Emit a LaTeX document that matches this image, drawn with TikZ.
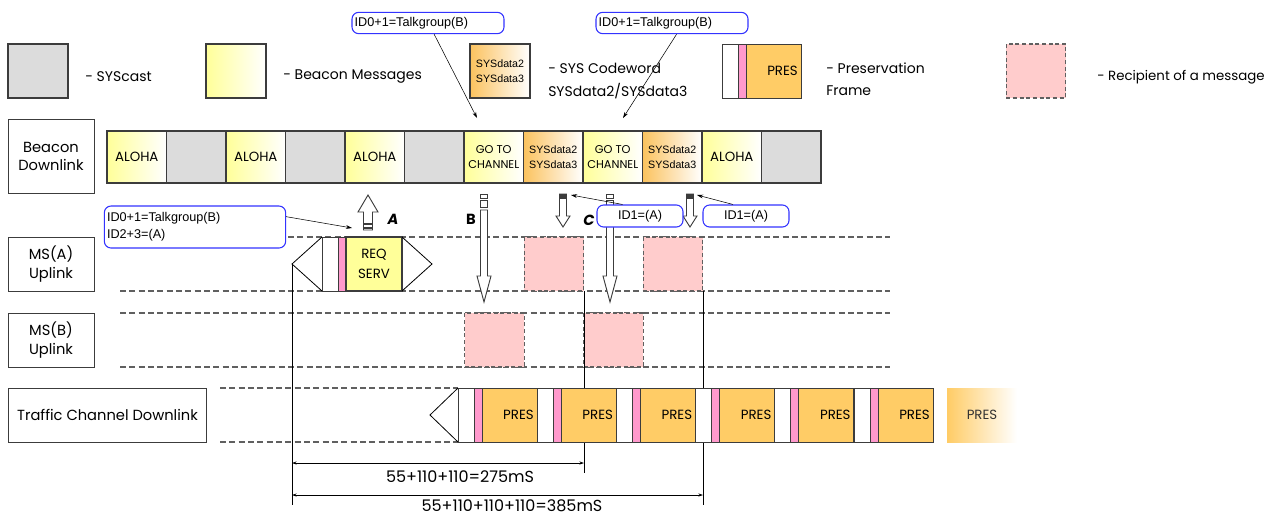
\documentclass[tikz,border=0pt]{standalone}
\usepackage{fontspec}
\setmainfont{Poppins}
\newfontfamily\arialfont{Liberation Sans}
\usepackage{xcolor}
\definecolor{CellLine}{HTML}{3C3C3C}
\definecolor{CastGray}{HTML}{DCDCDC}
\definecolor{BeaconYellow}{HTML}{FFFF99}
\definecolor{WordOrange}{HTML}{FBC25E}
\definecolor{PresOrange}{HTML}{FFCC66}
\definecolor{GuardPink}{HTML}{FF99CC}
\definecolor{RecipPink}{HTML}{FFCCCC}
\definecolor{CalloutBlue}{HTML}{3333FF}
\definecolor{DashGray}{HTML}{606060}
\usepackage{tikz}
\usetikzlibrary{arrows.meta,calc,positioning}

\newcommand{\presframe}[3]{%
  \draw[frameline,fill=white] (#1,#2) rectangle ({#1+16},{#2+54});
  \draw[frameline,fill=GuardPink] ({#1+16},#2) rectangle ({#1+24},{#2+54});
  \draw[frameline,fill=PresOrange] ({#1+24},#2) rectangle ({#1+79},{#2+54});
  \node[anchor=east,font=\fontsize{10}{12}\selectfont,inner sep=0pt] (#3) at ({#1+76},{#2+27}) {PRES};}
\newcommand{\downblk}[5]{%
  \draw[block] ({#1-3.5},#2) -- ({#1+3.5},#2) -- ({#1+3.5},#3) -- ({#1+#5},#3)
    -- (#1,#4) -- ({#1-#5},#3) -- ({#1-3.5},#3) -- cycle;}

\begin{document}
\begin{tikzpicture}[x=0.75pt,y=-0.75pt,
  cell/.style={draw=CellLine,line width=0.9pt,minimum width=44.6pt,minimum height=39pt,inner sep=0pt,align=center},
  cast/.style={cell,fill=CastGray},
  beacon/.style={cell,left color=BeaconYellow,right color=white,font=\fontsize{10}{12}\selectfont},
  gotocell/.style={beacon,font=\fontsize{8.5}{11}\selectfont},
  sysword/.style={cell,left color=WordOrange,right color=white,font=\arialfont\fontsize{8}{11}\selectfont},
  legend/.style={anchor=west,inner sep=0pt,font=\fontsize{10.5}{12}\selectfont},
  rowlabel/.style={draw=CellLine,line width=0.7pt,minimum width=64.5pt,minimum height=40.5pt,align=center,font=\fontsize{11}{14}\selectfont},
  lane/.style={draw=DashGray,line width=0.9pt,dash pattern=on 4.5pt off 2.5pt},
  recip/.style={draw=DashGray,fill=RecipPink,line width=0.8pt,dash pattern=on 3pt off 2pt,minimum width=44.6pt,minimum height=40.5pt,inner sep=0pt},
  callout/.style={draw=CalloutBlue,fill=white,rounded corners=5pt,line width=0.8pt,inner sep=2pt,align=left,font=\arialfont\fontsize{9.5}{12.5}\selectfont},
  pointer/.style={-{Stealth[length=1.6mm,width=1mm]},line width=0.4pt},
  measure/.style={{Stealth[length=1.2mm,width=0.8mm]}-{Stealth[length=1.2mm,width=0.8mm]},line width=0.5pt},
  frameline/.style={draw=CellLine,line width=0.7pt},
  block/.style={draw=CellLine,fill=white,line width=0.7pt},
  tag/.style={font=\fontsize{11}{13}\selectfont\bfseries\itshape,inner sep=0pt}
]
\useasboundingbox (0,0) rectangle (1281,515);

\node[cast,minimum width=45pt,minimum height=40.5pt] (lgcast) at (38,71) {};
\node[legend] (lgcastT) at (85,77) {- SYScast};
\node[beacon,minimum width=45pt,minimum height=40.5pt] (lgbeacon) at (236,71) {};
\node[legend] (lgbeaconT) at (283,77) {- Beacon Messages};
\node[sysword,minimum width=45pt,minimum height=40.5pt] (lgword) at (500,71) {SYSdata2\\SYSdata3};
\node[legend] (lgwordT) at (548,68) {- SYS Codeword};
\node[legend] (lgwordU) at (548,91) {SYSdata2/SYSdata3};
\presframe{722}{44}{lgpres}
\node[legend] (lgpresT) at (826,68) {- Preservation};
\node[legend] (lgpresU) at (826,91) {Frame};
\node[recip] (lgrecip) at (1036,71) {};
\node[legend,font=\fontsize{10}{12}\selectfont] (lgrecipT) at (1097,77) {- Recipient of a message};

\node[rowlabel,minimum height=56pt] (lbBeacon) at (51,156.5) {Beacon\\Downlink};
\node[rowlabel] (lbMSA) at (51,264) {MS(A)\\Uplink};
\node[rowlabel] (lbMSB) at (51,340) {MS(B)\\Uplink};
\node[rowlabel,minimum width=149pt] (lbTraffic) at (107.5,415) {Traffic Channel Downlink};

\foreach \kind/\txt [count=\i] in {beacon/ALOHA,cast/,beacon/ALOHA,cast/,beacon/ALOHA,cast/,
  gotocell/{GO TO\\CHANNEL},sysword/{SYSdata2\\SYSdata3},gotocell/{GO TO\\CHANNEL},
  sysword/{SYSdata2\\SYSdata3},beacon/ALOHA,cast/}
  \node[\kind] (bd\i) at ({107+59.5*(\i-0.5)},157) {\txt};

\foreach \y in {237,291,313,367}
  \draw[lane] (120,\y) -- (890,\y);
\draw[lane] (220,388) -- (458,388);
\draw[lane] (220,442) -- (458,442);

\node[recip] (rcA1) at (554,264) {};
\node[recip] (rcA2) at (673,264) {};
\node[recip] (rcB1) at (494.5,340) {};
\node[recip] (rcB2) at (613.5,340) {};

\coordinate (tA) at (292,264);
\coordinate (tAend) at (292,505);
\coordinate (tC) at (584,291);
\coordinate (tCend) at (584,473);
\coordinate (tD) at (703,291);
\coordinate (tDend) at (703,505);
\draw[line width=0.6pt] (tA) -- (tAend);
\draw[line width=0.6pt] (tC) -- (tCend);
\draw[line width=0.6pt] (tD) -- (tDend);

\draw[line width=0.6pt] (322,237) -- (292,264) -- (322,291);
\draw[frameline,fill=white] (322,237) rectangle (338,291);
\draw[frameline,fill=GuardPink] (338,237) rectangle (346,291);
\node[cell,fill=BeaconYellow,minimum width=42pt,minimum height=40.5pt,font=\fontsize{10}{12}\selectfont] (req) at (374,264) {REQ\\[3pt]SERV};
\draw[line width=0.6pt] (402,237) -- (432,264) -- (402,291);

\draw[line width=0.6pt] (458,388) -- (430,415) -- (458,442);
\foreach \k in {0,...,5}
  \presframe{458+79.2*\k}{388}{tf\k}
\node[minimum width=52pt,minimum height=40.5pt,left color=PresOrange,right color=white,text=black!80,font=\fontsize{10}{12}\selectfont] (tffade) at (982,415) {PRES};

\draw[block] (368,195) -- (378,212) -- (372.5,212) -- (372.5,230) -- (363.5,230) -- (363.5,212) -- (358,212) -- cycle;
\fill[CellLine] (363.5,223) rectangle (372.5,225);
\fill[CellLine] (363.5,227) rectangle (372.5,229);
\node[tag] (tagA) at (393,219) {A};

\draw[block] (480.5,194) rectangle (487.5,198);
\draw[block] (480.5,200) rectangle (487.5,207);
\downblk{484}{210}{276}{302}{7}
\node[tag,font=\fontsize{11}{13}\selectfont\bfseries] (tagB) at (471,219) {B};

\downblk{563}{194}{216}{227}{7}
\fill[CellLine] (559.5,194) rectangle (566.5,199);
\node[tag] (tagC) at (589,220) {C};

\draw[block] (606.5,194) rectangle (613.5,198);
\draw[block] (606.5,200) rectangle (613.5,207);
\downblk{610}{210}{276}{302}{7}

\downblk{690}{194}{216}{227}{7}
\fill[CellLine] (686.5,194) rectangle (693.5,199);

\node[callout,text width=110pt,minimum height=16pt] (tg1) at (428,23) {ID0+1=Talkgroup(B)};
\node[callout,text width=110pt,minimum height=16pt] (tg2) at (672,23) {ID0+1=Talkgroup(B)};
\node[callout,text width=132pt,minimum height=31.5pt] (tgA) at (195,227) {ID0+1=Talkgroup(B)\\ID2+3=(A)};
\node[callout,align=center,minimum width=64.5pt,minimum height=16.5pt] (idC1) at (640,216) {ID1=(A)};
\node[callout,align=center,minimum width=64.5pt,minimum height=16.5pt] (idC2) at (746,216) {ID1=(A)};

\coordinate (go1) at (477,118);
\coordinate (go2) at (623,118);
\coordinate (upA) at (352,228);
\coordinate (dnC1) at (571,195);
\coordinate (dnC2) at (697,195);
\draw[pointer] ($(tg1.south west)!0.54!(tg1.south east)$) -- (go1);
\draw[pointer] ($(tg2.south west)!0.53!(tg2.south east)$) -- (go2);
\draw[pointer] ($(tgA.north east)!0.26!(tgA.south east)$) -- (upA);
\draw[pointer] ($(idC1.north west)!0.3!(idC1.north east)$) -- (dnC1);
\draw[pointer] ($(idC2.north west)!0.35!(idC2.north east)$) -- (dnC2);

\coordinate (m1l) at (292,463);
\coordinate (m1r) at (584,463);
\coordinate (m2l) at (292,495);
\coordinate (m2r) at (703,495);
\draw[measure] (m1l) -- (m1r);
\draw[measure] (m2l) -- (m2r);
\node[font=\fontsize{12}{14}\selectfont] (ms1) at (460,477) {55+110+110=275mS};
\node[font=\fontsize{12}{14}\selectfont] (ms2) at (512,506) {55+110+110+110=385mS};
\end{tikzpicture}
\end{document}
